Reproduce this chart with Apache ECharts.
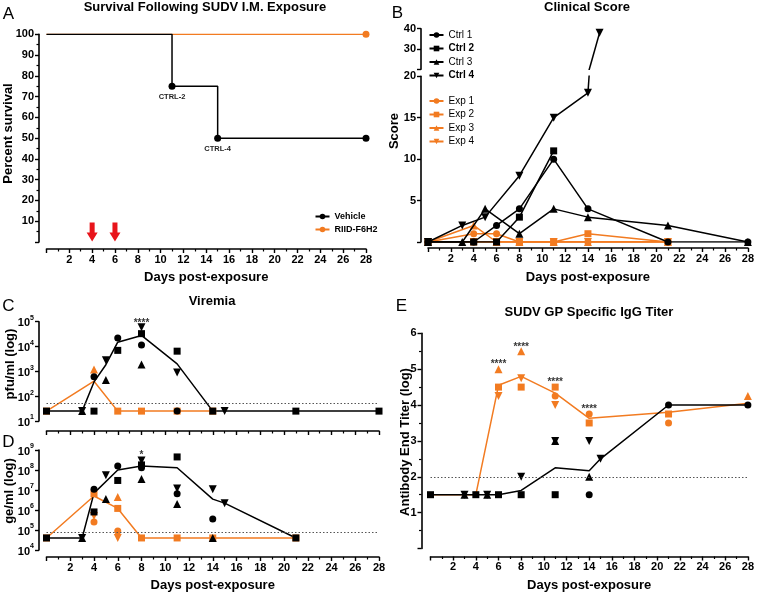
<!DOCTYPE html>
<html><head><meta charset="utf-8">
<script src="https://cdn.jsdelivr.net/npm/echarts@6/dist/echarts.min.js"></script>
<style>html,body{margin:0;padding:0;background:#fff}#c{width:757px;height:594px}</style>
</head><body><div id="c"></div>
<script>
// ================= DATA =================
// A: survival
const survivalDays = [0, 11, 15, 28];
const vehicleSurvival = [100, 75, 50, 50];
const vehicleEvents = ['', 'CTRL-2', 'CTRL-4', ''];
const riidDays = [0, 28];
const riidSurvival = [100, 100];
const treatmentDays = [4, 6];

// B: clinical score [day, score]
const ctrl1Score = [[0,0],[4,0],[6,2],[8,4],[11,10],[14,4],[21,0],[28,0]];
const ctrl2Score = [[0,0],[4,0],[6,0],[8,3],[11,11]];
const ctrl3Score = [[0,0],[3,0],[5,4],[8,1],[11,4],[14,3],[21,2],[28,0]];
const ctrl4Score = [[0,0],[3,2],[5,3],[8,8],[11,15],[14,18],[15,38]];
const exp1Score = [[0,0],[4,1],[6,1],[8,0],[11,0],[14,0],[21,0]];
const exp2Score = [[0,0],[4,0],[6,0],[8,0],[11,0],[14,1],[21,0]];
const exp3Score = [[0,0],[4,2],[6,0],[8,0],[11,0],[14,0],[21,0]];
const exp4Score = [[0,0],[4,0],[6,0],[8,0],[11,0],[14,0],[21,0]];

// C: viremia pfu/ml [day, value]
const ctrl1Pfu = [[4,600],[6,22000],[8,11500],[11,25]];
const ctrl2Pfu = [[0,25],[4,25],[6,7000],[8,33000],[11,6500],[14,25],[21,25],[28,25]];
const ctrl3Pfu = [[3,25],[5,450],[8,1900]];
const ctrl4Pfu = [[3,25],[5,2800],[8,60000],[11,900],[15,25]];
const exp2Pfu = [[0,25],[6,25],[8,25],[11,25],[14,25]];
const exp3Pfu = [[4,1200]];
const ctrlPfuMeanDays = [0,3,4,5,6,8,11,14,15,21,28];
const ctrlPfuMean = [25,25,375,1850,15000,28000,2000,25,25,25,25];
const expPfuMeanDays = [0,4,6,8,11,14];
const expPfuMean = [25,400,25,25,25,25];
const pfuLimit = 50;
const pfuSig = [[8, 1.07e5, '****']];

// D: ge/ml [day, value]
const ctrl1Ge = [[4,1.1e7],[6,1.6e8],[8,1.3e8],[11,6.5e6],[14,3.5e5]];
const ctrl2Ge = [[0,4e4],[4,8e5],[6,3e7],[8,1.8e8],[11,4.5e8],[21,4e4]];
const ctrl3Ge = [[3,4e4],[5,3.5e6],[8,3.5e7],[11,2e6],[14,4e4]];
const ctrl4Ge = [[3,4e4],[5,5.5e7],[8,3e8],[11,1.2e7],[14,1.1e7],[15,2.2e6]];
const exp1Ge = [[4,2.5e5],[6,9e4]];
const exp2Ge = [[0,4e4],[4,6.5e6],[6,1.2e6],[8,4e4],[11,4e4],[14,4e4],[21,4e4]];
const exp3Ge = [[6,4.5e6]];
const exp4Ge = [[4,5e5],[6,4e4]];
const ctrlGeMeanDays = [0,3,4,6,8,11,14,15,21];
const ctrlGeMean = [4e4,4e4,7e6,1e8,1.6e8,1.3e8,3.5e6,2.2e6,4e4];
const expGeMeanDays = [0,4,6,8,11,14,21];
const expGeMean = [4e4,5e6,1.2e6,4e4,4e4,4e4,4e4];
const geLimit = 8e4;
const geSig = [[8, 7e8, '*']];

// E: IgG titer (log) [day, value]
const ctrl1Igg = [[14,1.5],[21,4],[28,4]];
const ctrl2Igg = [[0,1.5],[4,1.5],[6,1.5],[8,1.5],[11,1.5]];
const ctrl3Igg = [[3,1.5],[5,1.5],[11,3],[14,2]];
const ctrl4Igg = [[3,1.5],[5,1.5],[8,2],[11,3],[14,3],[15,2.5]];
const exp1Igg = [[11,4.25],[14,3.75],[21,3.5]];
const exp2Igg = [[6,4.5],[8,4.5],[11,4.5],[14,3.5],[21,3.75]];
const exp3Igg = [[6,5],[8,5.5],[28,4.25]];
const exp4Igg = [[6,4.25],[8,4.75],[11,4]];
const ctrlIggMeanDays = [0,3,4,5,6,8,11,14,15,21,28];
const ctrlIggMean = [1.5,1.5,1.5,1.5,1.5,1.62,2.25,2.17,2.5,4,4];
const expIggMeanDays = [0,4,6,8,11,14,21,28];
const expIggMean = [1.5,1.5,4.55,4.8,4.33,3.63,3.8,4.05];
const iggLimit = 2;
const iggSig = [[6,5.19,'****'],[8,5.68,'****'],[11,4.68,'****'],[14,3.93,'****']];

// ================= STYLE / BUILD =================
const FF = "'Liberation Sans', Arial, sans-serif";
const BLACK = '#000';
const ORANGE = '#f27b21';
const zip = (xs, ys) => xs.map((x, i) => [x, ys[i]]);
const SHAPES = {
  circle: {symbol: 'circle', rot: 0, size: 7},
  square: {symbol: 'rect', rot: 0, size: 7},
  up: {symbol: 'triangle', rot: 0, size: 8},
  down: {symbol: 'triangle', rot: 180, size: 8}
};
const lineW = 1.5;

function axisLineCfg() { return {show: true, onZero: false, lineStyle: {color: BLACK, width: 1.6}}; }
function tickCfg() { return {show: true, length: 4, lineStyle: {color: BLACK, width: 1.4}}; }
function minorCfg(n) { return {show: true, splitNumber: n, length: 2.5, lineStyle: {color: BLACK, width: 1.2}}; }

function dayAxis(idx, opts) {
  return Object.assign({
    gridIndex: idx, type: 'value', min: 0, max: 28, interval: 2,
    axisLine: axisLineCfg(), axisTick: tickCfg(), minorTick: minorCfg(2),
    splitLine: {show: false}, minorSplitLine: {show: false},
    axisLabel: {show: true, margin: 5, color: BLACK, fontSize: 11, fontWeight: 'bold', fontFamily: FF,
      formatter: v => (v === 0 ? '' : String(v))},
    nameLocation: 'middle', nameGap: 22,
    nameTextStyle: {color: BLACK, fontSize: 13, fontWeight: 'bold', fontFamily: FF}
  }, opts);
}
function valAxis(idx, opts) {
  return Object.assign({
    gridIndex: idx, type: 'value',
    axisLine: axisLineCfg(), axisTick: tickCfg(),
    splitLine: {show: false}, minorSplitLine: {show: false},
    axisLabel: {margin: 5, color: BLACK, fontSize: 11, fontWeight: 'bold', fontFamily: FF,
      formatter: v => (v === 0 ? '' : String(v))}
  }, opts);
}
function logAxis(idx, min, max, opts) {
  return Object.assign({
    gridIndex: idx, type: 'log', logBase: 10, min, max,
    axisLine: axisLineCfg(), axisTick: tickCfg(),
    splitLine: {show: false}, minorSplitLine: {show: false},
    axisLabel: {margin: 5,
      formatter: v => '{b|10}{s|' + Math.round(Math.log10(v)) + '}',
      rich: {
        b: {fontSize: 11, fontWeight: 'bold', fontFamily: FF, color: BLACK, verticalAlign: 'bottom', lineHeight: 14},
        s: {fontSize: 7, fontWeight: 'bold', fontFamily: FF, color: BLACK, verticalAlign: 'top', lineHeight: 8}
      }}
  }, opts);
}

function pts(name, data, shape, color, idx) {
  const s = SHAPES[shape];
  return {type: 'scatter', name, data, xAxisIndex: idx, yAxisIndex: idx, symbol: s.symbol,
    symbolRotate: s.rot, symbolSize: s.size, itemStyle: {color, opacity: 1}, z: 4, silent: true, animation: false};
}
function meanLine(name, data, color, idx, extra) {
  return Object.assign({type: 'line', name, data, xAxisIndex: idx, yAxisIndex: idx, symbol: 'none',
    lineStyle: {color, width: lineW}, itemStyle: {color}, z: 3, silent: true, animation: false}, extra || {});
}
function scoreLine(name, data, shape, color, idx, extra) {
  const s = SHAPES[shape];
  return Object.assign({type: 'line', name, data, xAxisIndex: idx, yAxisIndex: idx, symbol: s.symbol,
    symbolRotate: s.rot, symbolSize: s.size, showAllSymbol: true, lineStyle: {color, width: lineW},
    itemStyle: {color, opacity: 1}, z: 3, silent: true, animation: false}, extra || {});
}
function limitLine(value) {
  return {silent: true, symbol: 'none', label: {show: false}, animation: false,
    lineStyle: {color: '#555', width: 1, type: [1.5, 2]}, data: [{yAxis: value}]};
}
function sigSeries(name, data, idx) {
  return {type: 'scatter', name, data, xAxisIndex: idx, yAxisIndex: idx, symbol: 'circle', symbolSize: 1,
    itemStyle: {color: 'rgba(0,0,0,0)'}, clip: false, silent: true, z: 5, animation: false,
    label: {show: true, position: 'inside', offset: [0, 2], formatter: p => p.data[2],
      color: BLACK, fontSize: 10, fontWeight: 'bold', fontFamily: FF}};
}
function txt(text, x, y, font, extra) {
  return Object.assign({type: 'text', x, y, silent: true,
    style: {text, font, fill: BLACK, textAlign: 'center', textVerticalAlign: 'middle'}}, extra || {});
}

// Survival series data
const vehicleData = zip(survivalDays, vehicleSurvival).map((p, i) => {
  const item = {value: p};
  if (i === 0) item.symbol = 'none';
  if (vehicleEvents[i]) item.label = {show: true, formatter: vehicleEvents[i], position: 'bottom', distance: 3,
    fontSize: 7.5, fontWeight: 'bold', fontFamily: FF, color: '#222'};
  return item;
});
const riidData = zip(riidDays, riidSurvival).map((p, i) => (i === 0 ? {value: p, symbol: 'none'} : {value: p}));

// Ctrl 4 spans the broken axis
const ctrl4Lower = ctrl4Score.map((p, i) => (i === ctrl4Score.length - 1 ? {value: p, symbol: 'none'} : p));
const ctrl4Upper = ctrl4Score.slice(-2).map((p, i) => (i === 0 ? {value: p, symbol: 'none'} : p));

const option = {
  animation: false,
  backgroundColor: '#fff',
  grid: [
    {left: 46.5, right: 391, top: 34.3, bottom: 352},   // A
    {left: 428, right: 8.7, top: 76.3, bottom: 352},    // B lower
    {left: 428, right: 8.7, top: 28.7, height: 40.6},   // B upper
    {left: 46.5, right: 378, top: 321.7, bottom: 173},  // C
    {left: 46.5, right: 378, top: 450, bottom: 44},     // D
    {left: 430.5, right: 7, top: 333.3, bottom: 45.5}   // E
  ],
  xAxis: [
    dayAxis(0, {offset: 7, name: 'Days post-exposure', nameGap: 22}),
    dayAxis(1, {offset: 6, name: 'Days post-exposure', nameGap: 23}),
    dayAxis(2, {show: false}),
    dayAxis(3, {offset: 10, axisLabel: {show: false}}),
    dayAxis(4, {offset: 7, name: 'Days post-exposure', nameGap: 22}),
    dayAxis(5, {offset: 8, name: 'Days post-exposure', nameGap: 22})
  ],
  yAxis: [
    valAxis(0, {min: 0, max: 100, interval: 10, offset: 7.5, minorTick: minorCfg(2)}),
    valAxis(1, {min: 0, max: 20, interval: 5, offset: 7}),
    valAxis(2, {min: 20, max: 40, interval: 10, offset: 7,
      axisLabel: {margin: 5, color: BLACK, fontSize: 11, fontWeight: 'bold', fontFamily: FF,
        formatter: v => (v === 20 ? '' : String(v))}}),
    logAxis(3, 10, 1e5, {offset: 7.5}),
    logAxis(4, 1e4, 1e9, {offset: 7.5}),
    valAxis(5, {min: 0, max: 6, interval: 1, offset: 9, minorTick: minorCfg(2)})
  ],
  legend: [
    {data: ['Vehicle', 'RIID-F6H2'], orient: 'vertical', left: 314.5, top: 211, padding: 0,
      itemWidth: 14, itemHeight: 7, itemGap: 2,
      textStyle: {fontSize: 9, fontWeight: 'bold', fontFamily: FF, color: BLACK, lineHeight: 11}},
    {data: [{name: 'Ctrl 1'}, {name: 'Ctrl 2', textStyle: {fontWeight: 'bold'}},
            {name: 'Ctrl 3'}, {name: 'Ctrl 4', textStyle: {fontWeight: 'bold'}}],
      orient: 'vertical', left: 428.5, top: 29, padding: 0, itemWidth: 14, itemHeight: 7, itemGap: 1.5,
      textStyle: {fontSize: 10, fontFamily: FF, color: BLACK, lineHeight: 12}},
    {data: ['Exp 1', 'Exp 2', 'Exp 3', 'Exp 4'],
      orient: 'vertical', left: 428.5, top: 95, padding: 0, itemWidth: 14, itemHeight: 7, itemGap: 1.5,
      textStyle: {fontSize: 10, fontFamily: FF, color: BLACK, lineHeight: 12}}
  ],
  graphic: [
    txt('Survival Following SUDV I.M. Exposure', 205, 7, 'bold 13px ' + FF),
    txt('Clinical Score', 587, 7, 'bold 13px ' + FF),
    txt('Viremia', 212, 301, 'bold 13px ' + FF),
    txt('SUDV GP Specific IgG Titer', 589, 312.5, 'bold 13px ' + FF),
    txt('A', 8.5, 14.5, '17px ' + FF),
    txt('B', 397.5, 13.5, '17px ' + FF),
    txt('C', 8.5, 306, '17px ' + FF),
    txt('D', 8.5, 442.5, '17px ' + FF),
    txt('E', 401.5, 306, '17px ' + FF),
    txt('Percent survival', 8.5, 133.5, 'bold 13px ' + FF, {rotation: Math.PI / 2}),
    txt('Score', 394, 131, 'bold 13px ' + FF, {rotation: Math.PI / 2}),
    txt('pfu/ml (log)', 10, 364, 'bold 13px ' + FF, {rotation: Math.PI / 2}),
    txt('ge/ml (log)', 9.5, 491, 'bold 13px ' + FF, {rotation: Math.PI / 2}),
    txt('Antibody End Titer (log)', 405, 442, 'bold 13px ' + FF, {rotation: Math.PI / 2})
  ],
  series: [
    // ---- A ----
    {type: 'line', name: 'RIID-F6H2', data: riidData, xAxisIndex: 0, yAxisIndex: 0, symbol: 'circle',
      symbolSize: 7, lineStyle: {color: ORANGE, width: lineW}, itemStyle: {color: ORANGE}, z: 2, silent: true},
    {type: 'line', name: 'Vehicle', data: vehicleData, step: 'end', xAxisIndex: 0, yAxisIndex: 0, symbol: 'circle',
      symbolSize: 7, lineStyle: {color: BLACK, width: lineW}, itemStyle: {color: BLACK}, z: 3, silent: true},
    {type: 'scatter', name: 'treatment', data: treatmentDays.map(d => [d, 0]), xAxisIndex: 0, yAxisIndex: 0,
      symbol: 'path://M3,0 L8,0 L8,10 L11,10 L5.5,19 L0,10 L3,10 Z', symbolSize: [11, 19],
      symbolOffset: [0, -10], itemStyle: {color: '#e8141b', opacity: 1}, clip: false, silent: true, z: 5},

    // ---- B (lower) ----
    scoreLine('Exp 4', exp4Score, 'down', ORANGE, 1),
    scoreLine('Exp 3', exp3Score, 'up', ORANGE, 1),
    scoreLine('Exp 1', exp1Score, 'circle', ORANGE, 1),
    scoreLine('Exp 2', exp2Score, 'square', ORANGE, 1),
    scoreLine('Ctrl 1', ctrl1Score, 'circle', BLACK, 1, {z: 4}),
    scoreLine('Ctrl 3', ctrl3Score, 'up', BLACK, 1, {z: 4}),
    scoreLine('Ctrl 4', ctrl4Lower, 'down', BLACK, 1, {z: 4}),
    scoreLine('Ctrl 2', ctrl2Score, 'square', BLACK, 1, {z: 4}),
    // ---- B (upper, above the break) ----
    scoreLine('Ctrl 4', ctrl4Upper, 'down', BLACK, 2, {z: 4}),

    // ---- C ----
    meanLine('C exp mean', zip(expPfuMeanDays, expPfuMean), ORANGE, 3, {markLine: limitLine(pfuLimit)}),
    meanLine('C ctrl mean', zip(ctrlPfuMeanDays, ctrlPfuMean), BLACK, 3),
    pts('C Exp 3', exp3Pfu, 'up', ORANGE, 3),
    pts('C Exp 2', exp2Pfu, 'square', ORANGE, 3),
    pts('C Ctrl 3', ctrl3Pfu, 'up', BLACK, 3),
    pts('C Ctrl 4', ctrl4Pfu, 'down', BLACK, 3),
    pts('C Ctrl 1', ctrl1Pfu, 'circle', BLACK, 3),
    pts('C Ctrl 2', ctrl2Pfu, 'square', BLACK, 3),
    sigSeries('C sig', pfuSig, 3),

    // ---- D ----
    meanLine('D exp mean', zip(expGeMeanDays, expGeMean), ORANGE, 4, {markLine: limitLine(geLimit)}),
    meanLine('D ctrl mean', zip(ctrlGeMeanDays, ctrlGeMean), BLACK, 4),
    pts('D Exp 1', exp1Ge, 'circle', ORANGE, 4),
    pts('D Exp 4', exp4Ge, 'down', ORANGE, 4),
    pts('D Exp 3', exp3Ge, 'up', ORANGE, 4),
    pts('D Exp 2', exp2Ge, 'square', ORANGE, 4),
    pts('D Ctrl 3', ctrl3Ge, 'up', BLACK, 4),
    pts('D Ctrl 4', ctrl4Ge, 'down', BLACK, 4),
    pts('D Ctrl 1', ctrl1Ge, 'circle', BLACK, 4),
    pts('D Ctrl 2', ctrl2Ge, 'square', BLACK, 4),
    sigSeries('D sig', geSig, 4),

    // ---- E ----
    meanLine('E exp mean', zip(expIggMeanDays, expIggMean), ORANGE, 5, {markLine: limitLine(iggLimit)}),
    meanLine('E ctrl mean', zip(ctrlIggMeanDays, ctrlIggMean), BLACK, 5),
    pts('E Exp 1', exp1Igg, 'circle', ORANGE, 5),
    pts('E Exp 4', exp4Igg, 'down', ORANGE, 5),
    pts('E Exp 3', exp3Igg, 'up', ORANGE, 5),
    pts('E Exp 2', exp2Igg, 'square', ORANGE, 5),
    pts('E Ctrl 3', ctrl3Igg, 'up', BLACK, 5),
    pts('E Ctrl 4', ctrl4Igg, 'down', BLACK, 5),
    pts('E Ctrl 1', ctrl1Igg, 'circle', BLACK, 5),
    pts('E Ctrl 2', ctrl2Igg, 'square', BLACK, 5),
    sigSeries('E sig', iggSig, 5)
  ]
};

const chart = echarts.init(document.getElementById('c'), null, {renderer: 'canvas', width: 757, height: 594});
chart.setOption(option);
</script>
</body></html>
